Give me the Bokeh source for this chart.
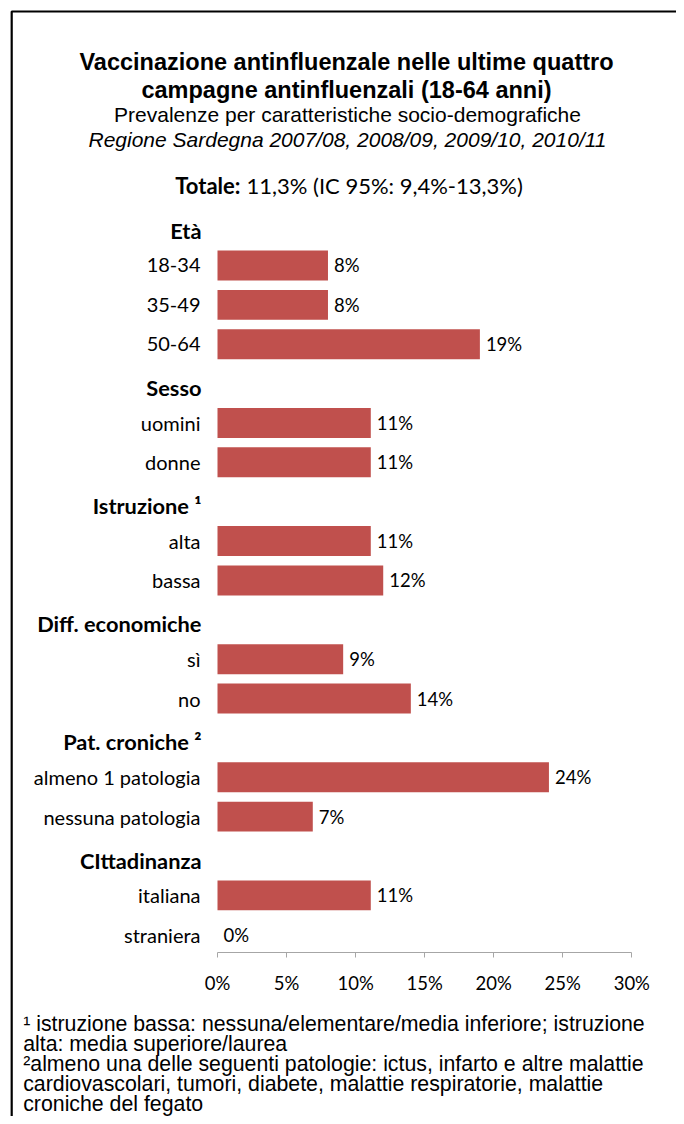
from bokeh.plotting import figure
from bokeh.models import Range1d, Label, BoxAnnotation, FixedTicker, ColumnDataSource
from bokeh.core.properties import value
from bokeh.embed import file_html
from bokeh.resources import INLINE

# ---------------- data ----------------
title_lines = ["Vaccinazione antinfluenzale nelle ultime quattro",
               "campagne antinfluenzali (18-64 anni)"]
subtitle = "Prevalenze per caratteristiche socio-demografiche"
period = "Regione Sardegna 2007/08, 2008/09, 2009/10, 2010/11"
total_head = "Totale:"
total_text = "11,3% (IC 95%: 9,4%-13,3%)"

groups = ["Età", "Sesso", "Istruzione ¹", "Diff. economiche",
          "Pat. croniche ²", "CIttadinanza"]
categories = ["18-34", "35-49", "50-64", "uomini", "donne", "alta", "bassa",
              "sì", "no", "almeno 1 patologia", "nessuna patologia",
              "italiana", "straniera"]
category_group = ["Età", "Età", "Età", "Sesso", "Sesso", "Istruzione ¹",
                  "Istruzione ¹", "Diff. economiche", "Diff. economiche",
                  "Pat. croniche ²", "Pat. croniche ²", "CIttadinanza",
                  "CIttadinanza"]
values = [8.0, 8.0, 19.0, 11.1, 11.1, 11.1, 12.0, 9.1, 14.0, 24.0, 6.9, 11.1, 0.0]
value_labels = ["8%", "8%", "19%", "11%", "11%", "11%", "12%", "9%", "14%",
                "24%", "7%", "11%", "0%"]

tick_values = [0, 5, 10, 15, 20, 25, 30]
tick_labels = ["0%", "5%", "10%", "15%", "20%", "25%", "30%"]

footnotes = ["¹ istruzione bassa: nessuna/elementare/media inferiore; istruzione",
             "alta: media superiore/laurea",
             "²almeno una delle seguenti patologie: ictus, infarto e altre malattie",
             "cardiovascolari, tumori, diabete, malattie respiratorie, malattie",
             "croniche del fegato"]

# ---------------- layout ----------------
rows = []
for g in groups:
    rows.append(g)
    rows.extend(c for c, cg in zip(categories, category_group) if cg == g)
row_index = {name: i for i, name in enumerate(rows)}

BAR = "#C0504D"
CAL = value("Lato")
ARIAL = "Liberation Sans"

W, H = 676, 1116
# horizontal scale: 0% at x=217, 30% at x=631.3 (canvas px)
ppu = (631.3 - 217.0) / 30.0
xstart = -217.0 / ppu
xend = xstart + W / ppu
# vertical scale: first row centred at y=225.6, 39.37 px per row
ROW0, PPR = 225.6, 39.37
ytop = -ROW0 / PPR
ybottom = (H - ROW0) / PPR

p = figure(width=W, height=H, x_range=Range1d(xstart, xend),
           y_range=Range1d(ybottom, ytop),
           output_backend="svg", toolbar_location=None, y_axis_location=None,
           min_border_left=0, min_border_right=0, min_border_top=0,
           min_border_bottom=0, title=None)
p.outline_line_color = None
p.xgrid.visible = False
p.ygrid.visible = False
p.background_fill_color = "white"
p.border_fill_color = "white"

src = ColumnDataSource(dict(cat=categories, val=values, lab=value_labels,
                            row=[row_index[c] for c in categories],
                            zero=[0] * len(categories)))
p.hbar(y="row", left=0, right="val", height=0.76, source=src,
       fill_color=BAR, line_color=None)

p.text(x="val", y="row", text="lab", source=src, x_offset=6,
       text_align="left", text_baseline="middle", text_font=CAL,
       text_font_size="18.5px", text_color="black")
p.text(x="zero", y="row", text="cat", source=src, x_offset=-17,
       text_align="right", text_baseline="middle", text_font=CAL,
       text_font_size="20px", text_color="black")

hsrc = ColumnDataSource(dict(g=groups, row=[row_index[g] for g in groups],
                             zero=[0] * len(groups)))
p.text(x="zero", y="row", text="g", source=hsrc, x_offset=-16, y_offset=4,
       text_align="right", text_baseline="middle", text_font=CAL,
       text_font_size="21.8px", text_font_style="bold", text_color="black")

ax = p.xaxis[0]
ax.fixed_location = (952.3 - ROW0) / PPR
ax.ticker = FixedTicker(ticks=tick_values)
ax.major_label_overrides = dict(zip(tick_values, tick_labels))
ax.bounds = (tick_values[0], tick_values[-1])
ax.axis_line_color = "#a6a6a6"
ax.major_tick_line_color = "#a6a6a6"
ax.major_tick_in = 0
ax.major_tick_out = 5
ax.minor_tick_in = 0
ax.minor_tick_out = 0
ax.major_label_text_font = "Lato"
ax.major_label_text_font_size = "18.5px"
ax.major_label_text_color = "black"
ax.major_label_standoff = 14


def add_label(text, px, py, font, size, style="normal", align="center"):
    p.add_layout(Label(x=px, y=H - py, x_units="screen", y_units="screen",
                       text=text, text_font=font, text_font_size=size,
                       text_font_style=style, text_align=align,
                       text_baseline="alphabetic", text_color="black"))


CX = 346
add_label(title_lines[0], CX, 61, ARIAL, "23.5px", "bold")
add_label(title_lines[1], CX, 89, ARIAL, "23.5px", "bold")
add_label(subtitle, CX + 1, 114, ARIAL, "21px")
add_label(period, CX + 1, 139, ARIAL, "21px", "italic")
add_label(total_head, 240, 185, "Lato", "22px", "bold", "right")
add_label(total_text, 246, 185, "Lato", "22px", "normal", "left")

fy = [1023, 1043, 1063, 1083, 1103]
for t, y in zip(footnotes, fy):
    add_label(t, 22.7, y, ARIAL, "21.3px", "normal", "left")

p.add_layout(BoxAnnotation(left=11.2, right=900, top=H - 11, bottom=-300,
                           left_units="screen", right_units="screen",
                           top_units="screen", bottom_units="screen",
                           fill_alpha=0, line_color="black", line_alpha=1.0,
                           line_width=2.2))

open("out.html", "w").write(file_html(p, INLINE))
